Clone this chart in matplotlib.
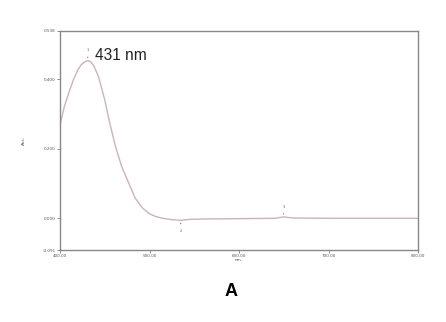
import matplotlib
matplotlib.use("Agg")
import matplotlib.pyplot as plt

wavelength = [400, 405, 410, 415, 420, 424, 428, 431, 434, 438, 443, 450, 455, 462, 469, 477,
              484, 492, 500, 507, 515, 525, 535, 545, 560, 600, 640, 650, 660, 700, 750, 800]
absorbance = [0.268, 0.322, 0.362, 0.398, 0.427, 0.442, 0.45, 0.453, 0.45, 0.437, 0.407, 0.34,
              0.28, 0.206, 0.148, 0.10, 0.058, 0.03, 0.013, 0.005, 0.0, -0.004, -0.006, -0.003,
              -0.002, -0.001, 0.0, 0.004, 0.001, 0.0, 0.0, 0.0]
xticks = [400, 500, 600, 700, 800]
xticklabels = ["400.00", "500.00", "600.00", "700.00", "800.00"]
yticks = [-0.091, 0.0, 0.2, 0.4, 0.538]
yticklabels = ["-0.091", "0.000", "0.200", "0.400", "0.538"]
peaks = [(431, 0.453, "1", "up"), (535, -0.006, "2", "down"), (650, 0.004, "3", "up")]

fig = plt.figure(figsize=(4.46, 3.22), dpi=100)
ax = fig.add_axes([60/446, 1-250/322, 358/446, 219/322])
ax.plot(wavelength, absorbance, color="#cdb3b5", lw=1.0)
ax.set_xlim(400, 800)
ax.set_ylim(-0.091, 0.538)
ax.set_xticks(xticks)
ax.set_xticklabels(xticklabels, fontsize=3, color="#555555")
ax.set_yticks(yticks)
ax.set_yticklabels(yticklabels, fontsize=3, color="#555555")
ax.tick_params(axis="both", length=2, width=0.6, color="#777777", pad=1)
for s in ax.spines.values():
    s.set_color("#888888")
    s.set_linewidth(1.0)
ax.set_xlabel("nm.", fontsize=3, color="#555555", labelpad=0)
ax.set_ylabel("Abs.", fontsize=3, color="#555555", labelpad=12)

for x, y, lab, d in peaks:
    if d == "up":
        ax.annotate("", xy=(x, y), xytext=(x, y + 0.018),
                    arrowprops=dict(arrowstyle="-", color="#884444", lw=0.6))
        ax.text(x, y + 0.024, lab, fontsize=2.5, ha="center", va="bottom", color="#555555")
    else:
        ax.annotate("", xy=(x, y), xytext=(x, y - 0.018),
                    arrowprops=dict(arrowstyle="-", color="#884444", lw=0.6))
        ax.text(x, y - 0.024, lab, fontsize=2.5, ha="center", va="top", color="#555555")

ax.text(439.5, 0.469, "431 nm", fontsize=11.2, color="#222222", ha="left", va="center",
        family="Liberation Sans")
fig.text(231/446, 1-291/322, "A", fontsize=13, fontweight="bold", ha="center", va="center",
         family="Liberation Sans")
fig.savefig("out.png", dpi=100, facecolor="white")
